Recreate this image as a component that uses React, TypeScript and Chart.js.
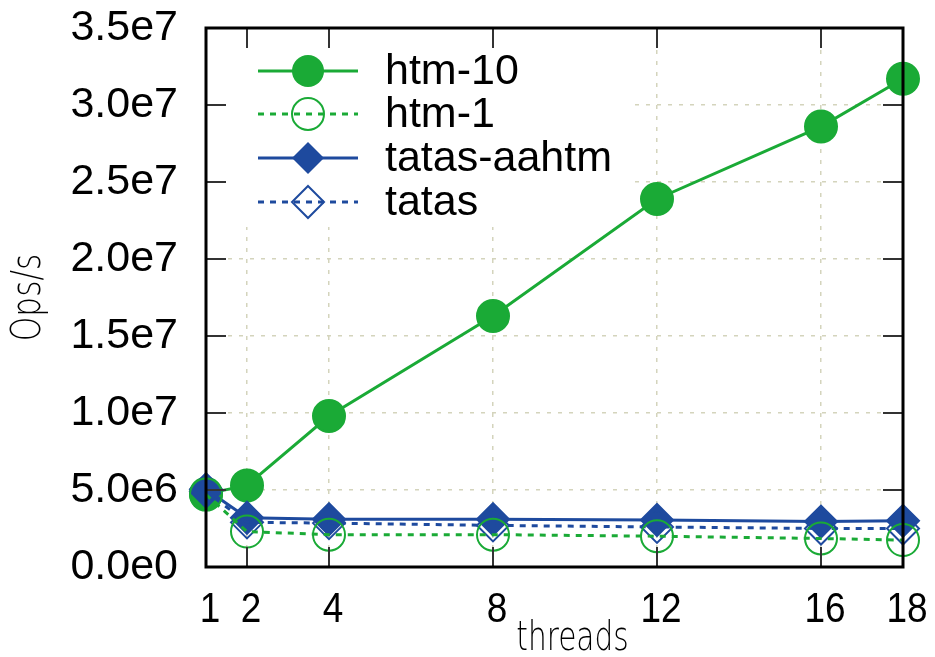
import React, { useEffect, useRef } from "react";
import { Chart, registerables } from "chart.js";

Chart.register(...registerables);

const threads = [1, 2, 4, 8, 12, 16, 18];
const htm10 = [4.75e6, 5.3e6, 9.8e6, 16.3e6, 23.9e6, 28.6e6, 31.7e6];
const htm1 = [4.7e6, 2.3e6, 2.1e6, 2.1e6, 2.0e6, 1.85e6, 1.75e6];
const tatasAahtm = [5.05e6, 3.2e6, 3.1e6, 3.1e6, 3.05e6, 2.95e6, 3.0e6];
const tatas = [4.9e6, 2.9e6, 2.85e6, 2.7e6, 2.6e6, 2.5e6, 2.5e6];

const xTicks = [1, 2, 4, 8, 12, 16, 18];
const yTicks = [0, 5e6, 1e7, 1.5e7, 2e7, 2.5e7, 3e7, 3.5e7];
const yTickLabels = ["0.0e0", "5.0e6", "1.0e7", "1.5e7", "2.0e7", "2.5e7", "3.0e7", "3.5e7"];
const seriesNames = ["htm-10", "htm-1", "tatas-aahtm", "tatas"];

const GREEN = "#1aaa36";
const BLUE = "#1e4a9e";
const TICK_FONT = '"Liberation Sans", Arial, sans-serif';

export default function App() {
  const ref = useRef<HTMLCanvasElement | null>(null);

  useEffect(() => {
    if (!ref.current) return;

    const styles = [
      { color: GREEN, dash: [] as number[], shape: "circle", fill: true },
      { color: GREEN, dash: [6, 6], shape: "circle", fill: false },
      { color: BLUE, dash: [] as number[], shape: "diamond", fill: true },
      { color: BLUE, dash: [6, 6], shape: "diamond", fill: false },
    ];

    const drawMarker = (ctx: CanvasRenderingContext2D, shape: string, x: number, y: number, r: number, color: string, fill: boolean) => {
      ctx.save();
      ctx.setLineDash([]);
      ctx.beginPath();
      if (shape === "circle") {
        ctx.arc(x, y, r, 0, Math.PI * 2);
      } else {
        ctx.moveTo(x, y - r);
        ctx.lineTo(x + r, y);
        ctx.lineTo(x, y + r);
        ctx.lineTo(x - r, y);
        ctx.closePath();
      }
      if (fill) {
        ctx.fillStyle = color;
        ctx.fill();
      } else {
        ctx.strokeStyle = color;
        ctx.lineWidth = 2;
        ctx.stroke();
      }
      ctx.restore();
    };

    const framePlugin = {
      id: "gnuplotFrame",
      beforeDatasetsDraw(chart: any) {
        const ctx = chart.ctx as CanvasRenderingContext2D;
        const a = chart.chartArea;
        ctx.save();
        ctx.fillStyle = "#ffffff";
        ctx.fillRect(a.left + 2, a.top + 2, 630 - a.left, 225 - a.top);
        ctx.restore();
      },
      afterDatasetsDraw(chart: any) {
        const ctx = chart.ctx as CanvasRenderingContext2D;
        const a = chart.chartArea;
        const xs = chart.scales.x;
        const ys = chart.scales.y;
        const TL = 20;
        ctx.save();
        ctx.strokeStyle = "#333333";
        ctx.lineWidth = 2;
        ctx.beginPath();
        xTicks.forEach((v) => {
          const px = xs.getPixelForValue(v);
          ctx.moveTo(px, a.bottom);
          ctx.lineTo(px, a.bottom - TL);
          ctx.moveTo(px, a.top);
          ctx.lineTo(px, a.top + TL);
        });
        yTicks.forEach((v) => {
          const py = ys.getPixelForValue(v);
          ctx.moveTo(a.left, py);
          ctx.lineTo(a.left + TL, py);
          ctx.moveTo(a.right, py);
          ctx.lineTo(a.right - TL, py);
        });
        ctx.stroke();
        ctx.strokeStyle = "#000000";
        ctx.lineWidth = 3;
        ctx.strokeRect(a.left, a.top, a.right - a.left, a.bottom - a.top);

        // x tick labels
        ctx.fillStyle = "#000000";
        ctx.font = `42px ${TICK_FONT}`;
        ctx.textAlign = "center";
        ctx.textBaseline = "middle";
        xTicks.forEach((v) => {
          const px = xs.getPixelForValue(v);
          ctx.save();
          ctx.translate(px + 4, a.bottom + 43);
          ctx.scale(0.88, 1);
          ctx.fillText(String(v), 0, 0);
          ctx.restore();
        });

        // axis titles (thin, condensed)
        ctx.font = '200 40px "DejaVu Sans", sans-serif';
        ctx.save();
        ctx.translate((a.left + a.right) / 2 + 18, a.bottom + 73);
        ctx.scale(0.74, 1);
        ctx.fillText("threads", 0, 0);
        ctx.restore();
        ctx.save();
        ctx.translate(30, (a.top + a.bottom) / 2);
        ctx.rotate(-Math.PI / 2);
        ctx.scale(0.78, 1);
        ctx.fillText("Ops/s", 0, 0);
        ctx.restore();

        // legend
        const rows = [71, 114, 158, 202];
        ctx.font = `43px ${TICK_FONT}`;
        ctx.textAlign = "left";
        ctx.textBaseline = "middle";
        seriesNames.forEach((name, i) => {
          const st = styles[i];
          const y = rows[i];
          ctx.save();
          ctx.strokeStyle = st.color;
          ctx.lineWidth = 3;
          ctx.setLineDash(st.dash);
          ctx.beginPath();
          ctx.moveTo(258, y);
          ctx.lineTo(358, y);
          ctx.stroke();
          ctx.restore();
          drawMarker(ctx, st.shape, 308, y, 16, st.color, st.fill);
          ctx.fillStyle = "#000000";
          ctx.fillText(name, 385, y + 1);
        });
        ctx.restore();
      },
    };

    const mk = (label: string, data: number[], i: number) => {
      const st = [
        { color: GREEN, dash: [], style: "circle", bg: GREEN, r: 16 },
        { color: GREEN, dash: [6, 6], style: "circle", bg: "rgba(0,0,0,0)", r: 16 },
        { color: BLUE, dash: [], style: "rectRot", bg: BLUE, r: 16 },
        { color: BLUE, dash: [6, 6], style: "rectRot", bg: "rgba(0,0,0,0)", r: 16 },
      ][i];
      return {
        label,
        data: threads.map((t, k) => ({ x: t, y: data[k] })),
        borderColor: st.color,
        backgroundColor: st.bg,
        borderWidth: 3,
        borderDash: st.dash,
        pointStyle: st.style,
        pointRadius: st.r,
        pointBackgroundColor: st.bg,
        pointBorderColor: st.color,
        pointBorderWidth: 2,
        tension: 0,
        clip: false,
        fill: false,
      };
    };

    const datasets = [
      mk(seriesNames[1], htm1, 1),
      mk(seriesNames[3], tatas, 3),
      mk(seriesNames[2], tatasAahtm, 2),
      mk(seriesNames[0], htm10, 0),
    ];

    const chart = new Chart(ref.current, {
      type: "line",
      data: { datasets: datasets as any },
      plugins: [framePlugin],
      options: {
        animation: false,
        responsive: false,
        maintainAspectRatio: false,
        layout: { padding: { top: 28, right: 32, left: 0, bottom: 0 } },
        plugins: { legend: { display: false }, tooltip: { enabled: false } },
        scales: {
          x: {
            type: "linear",
            min: 1,
            max: 18,
            afterBuildTicks: (s: any) => {
              s.ticks = xTicks.map((v) => ({ value: v }));
            },
            afterFit: (s: any) => {
              s.height = 90;
              s.paddingLeft = 0;
              s.paddingRight = 0;
            },
            ticks: { display: false },
            grid: { color: "#d4d4bc", lineWidth: 1.5, drawTicks: false },
            border: { display: false, dash: [4, 7] },
          },
          y: {
            type: "linear",
            min: 0,
            max: 3.5e7,
            afterBuildTicks: (s: any) => {
              s.ticks = yTicks.map((v) => ({ value: v }));
            },
            afterFit: (s: any) => {
              s.width = 206;
              s.paddingTop = 0;
              s.paddingBottom = 0;
            },
            ticks: {
              padding: 28,
              color: "#000000",
              font: { family: TICK_FONT, size: 43 },
              callback: (_v: any, i: number) => yTickLabels[i],
            },
            grid: { color: "#d4d4bc", lineWidth: 1.5, drawTicks: false },
            border: { display: false, dash: [4, 7] },
          },
        },
      },
    });

    return () => chart.destroy();
  }, []);

  return (
    <div style={{ position: "absolute", left: 0, top: 0, width: 935, height: 657, background: "#fff" }}>
      <canvas ref={ref} width={935} height={657} style={{ display: "block" }} />
    </div>
  );
}
